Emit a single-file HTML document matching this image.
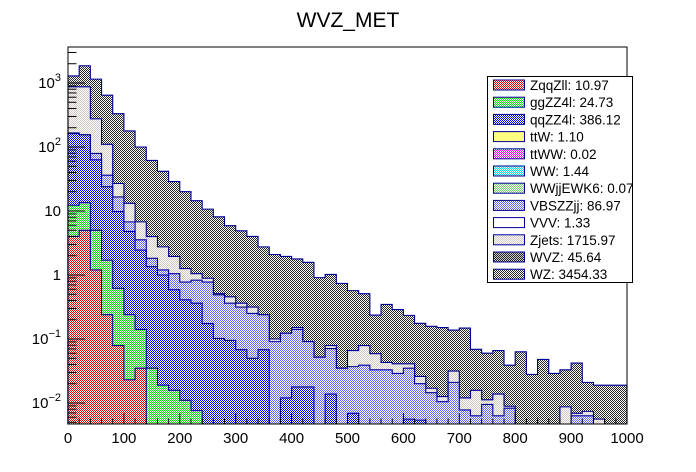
<!DOCTYPE html>
<html><head><meta charset="utf-8"><style>
body{margin:0;background:#fff}
svg{display:block;font-family:"Liberation Sans",sans-serif}
</style></head><body>
<svg id="chart" width="696" height="472" viewBox="0 0 696 472" xmlns="http://www.w3.org/2000/svg">
<defs>
<pattern id="pWZ" width="2" height="2" patternUnits="userSpaceOnUse"><rect width="2" height="2" fill="#fff"/><rect width="1" height="1" fill="#262626"/><rect x="1" y="1" width="1" height="1" fill="#262626"/></pattern>
<pattern id="pWVZ" width="2" height="2" patternUnits="userSpaceOnUse"><rect width="2" height="2" fill="#ccc"/><rect width="1" height="1" fill="#222"/><rect x="1" y="1" width="1" height="1" fill="#222"/></pattern>
<pattern id="pZj" width="2" height="2" patternUnits="userSpaceOnUse"><rect width="2" height="2" fill="#fff"/><rect width="1" height="1" fill="#d0c8c0"/><rect x="1" y="1" width="1" height="1" fill="#d0c8c0"/></pattern>
<pattern id="pVBS" width="2" height="2" patternUnits="userSpaceOnUse"><rect width="2" height="2" fill="#fff"/><rect width="1" height="1" fill="#6666ff"/><rect x="1" y="1" width="1" height="1" fill="#6666ff"/></pattern>
<pattern id="pQQ" width="2" height="2" patternUnits="userSpaceOnUse"><rect width="2" height="2" fill="#fff"/><rect width="1" height="1" fill="#0000ee"/><rect x="1" y="1" width="1" height="1" fill="#0000ee"/></pattern>
<pattern id="pGG" width="2" height="2" patternUnits="userSpaceOnUse"><rect width="2" height="2" fill="#fff"/><rect width="1" height="1" fill="#00e000"/><rect x="1" y="1" width="1" height="1" fill="#00e000"/></pattern>
<pattern id="pZqq" width="2" height="2" patternUnits="userSpaceOnUse"><rect width="2" height="2" fill="#fff"/><rect width="1" height="1" fill="#e00000"/><rect x="1" y="1" width="1" height="1" fill="#e00000"/></pattern>
<pattern id="pYel" width="2" height="2" patternUnits="userSpaceOnUse"><rect width="2" height="2" fill="#ffff80"/></pattern>
<pattern id="pMag" width="2" height="2" patternUnits="userSpaceOnUse"><rect width="2" height="2" fill="#fff"/><rect width="1" height="1" fill="#ff00ff"/><rect x="1" y="1" width="1" height="1" fill="#ff00ff"/></pattern>
<pattern id="pCy" width="2" height="2" patternUnits="userSpaceOnUse"><rect width="2" height="2" fill="#fff"/><rect width="1" height="1" fill="#00e0e0"/><rect x="1" y="1" width="1" height="1" fill="#00e0e0"/></pattern>
<pattern id="pWWjj" width="2" height="2" patternUnits="userSpaceOnUse"><rect width="2" height="2" fill="#fff"/><rect width="1" height="1" fill="#70d070"/><rect x="1" y="1" width="1" height="1" fill="#70d070"/></pattern>
</defs>
<text x="348" y="27" font-size="21" text-anchor="middle">WVZ_MET</text>
<g id="layers"></g>
<rect x="68" y="47" width="559" height="377" fill="none" stroke="#000" stroke-width="1"/>
<g id="axes"></g>
<g id="legend"></g>
</svg>
<script>
// stacked cumulative bin contents (20 GeV bins, 0-1000)
const binEdges0 = 0, binWidth = 20;
const stackTotal = [1290,1860,1150,646,331,178,100,61.7,41.7,28.8,20,14.5,10.7,8.1,5.9,4.9,4.0,2.75,2.09,1.95,1.78,1.58,0.91,1.02,0.74,0.57,0.51,0.237,0.347,0.288,0.234,0.176,0.158,0.151,0.138,0.148,0.069,0.060,0.066,0.039,0.063,0.028,0.048,0.029,0.033,0.042,0.021,0.019,0.019,0.019];
const stackZjets = [871,871,275,110,26.9,13.2,6.76,3.98,2.75,1.95,1.26,1.05,0.89,0.51,0.457,0.363,0.316,0.24,0.10,0.123,0.151,0.091,0.052,0.079,0.035,0.066,0.079,0.059,0.043,0.041,0.041,0.026,0.017,0.0126,0.0316,0.012,0.0158,0.0112,0.0138,0.0089,0,0,0,0,0.0087,0.0069,0.0074,0.0056,0,0];
const stackVBS = [166,155,79.4,36.3,16.6,6.76,3.55,1.82,1.20,1.05,0.776,0.83,0.776,0.49,0.363,0.316,0.251,0.24,0.091,0.123,0.141,0.091,0.052,0.071,0.035,0.037,0.039,0.033,0.033,0.029,0.035,0.020,0.0145,0.0105,0.021,0.0078,0.0063,0.0095,0.0063,0.0083,0,0,0,0,0,0.0063,0.0063,0,0,0];
const stackQQ = [162,155,63,24,9.8,4.8,2.45,1.35,1.0,0.59,0.41,0.363,0.174,0.102,0.095,0.068,0.050,0.068,0,0.012,0.0178,0.0178,0,0.0138,0,0.0069,0,0,0,0,0.0056,0.0054,0,0,0,0,0,0,0,0,0,0,0,0,0,0,0,0,0,0];
const stackGG = [12.3,13.5,5.0,1.7,0.62,0.24,0.141,0.035,0.019,0.0158,0.011,0.0076];
const stackZqq = [4.0,5.0,1.2,0.24,0.079,0.023,0.035];
const xTicks = [0,100,200,300,400,500,600,700,800,900,1000];
const yTickExp = [-2,-1,0,1,2,3];
const legendLabels = ["ZqqZll: 10.97","ggZZ4l: 24.73","qqZZ4l: 386.12","ttW: 1.10","ttWW: 0.02","WW: 1.44","WWjjEWK6: 0.07","VBSZZjj: 86.97","VVV: 1.33","Zjets: 1715.97","WVZ: 45.64","WZ: 3454.33"];
const legendFills = ["pZqq","pGG","pQQ","pYel","pMag","pCy","pWWjj","pVBS","#fff","pZj","pWVZ","pWZ"];

const NS="http://www.w3.org/2000/svg";
const X0=68,X1=627,YT=47,YB=424;
const LMIN=-2.33,LMAX=3.56;
function xs(v){return X0+(v-0)/1000*(X1-X0);}
function ys(v){ if(!(v>0)) return YB; let l=Math.log10(v); l=Math.max(LMIN,Math.min(LMAX,l)); return 275-64*l;}
function mk(tag,attrs,parent){const e=document.createElementNS(NS,tag);for(const k in attrs)e.setAttribute(k,attrs[k]);parent.appendChild(e);return e;}

const layers=document.getElementById('layers');
const stacks=[[stackTotal,'pWZ','wz'],[stackZjets,'pZj','zjets'],[stackVBS,'pVBS','vbszzjj'],[stackQQ,'pQQ','qqzz4l'],[stackGG,'pGG','ggzz4l'],[stackZqq,'pZqq','zqqzll']];
stacks.forEach(([arr,pat,nm])=>{
  let d='M'+xs(0)+','+YB;
  arr.forEach((v,i)=>{const y=ys(v);d+=' L'+xs(i*binWidth)+','+y+' L'+xs((i+1)*binWidth)+','+y;});
  d+=' L'+xs(arr.length*binWidth)+','+YB+' Z';
  const p=mk('path',{d:d,fill:'url(#'+pat+')',stroke:'#000099','stroke-width':'1.1'},layers);
  
  
});

const axes=document.getElementById('axes');
for(let v=0;v<=1000;v+=20){
  const major=v%100===0;
  mk('line',{x1:xs(v),x2:xs(v),y1:YB,y2:YB-(major?11:5.5),stroke:'#000','stroke-width':1},axes);
}
xTicks.forEach(v=>{
  const t=mk('text',{x:xs(v),y:443,'font-size':15,'text-anchor':'middle'},axes);
  t.textContent=String(v);
  
  
});
for(let e=-3;e<=3;e++){
  for(let m=1;m<10;m++){
    const v=m*Math.pow(10,e);const l=Math.log10(v);
    if(l<LMIN||l>LMAX+0.02)continue;
    const y=275-64*l;
    mk('line',{x1:X0,x2:X0+(m===1?17:8.5),y1:y,y2:y,stroke:'#000','stroke-width':1},axes);
  }
}
yTickExp.forEach(e=>{
  const y=275-64*e+5;
  const t=mk('text',{x:61,y:y,'font-size':15,'text-anchor':'end'},axes);
  
  
  if(e===0){t.textContent='1';}
  else if(e===1){t.textContent='10';}
  else{
    const a=document.createElementNS(NS,'tspan');a.textContent='10';t.appendChild(a);
    const b=document.createElementNS(NS,'tspan');b.setAttribute('dy','-7');b.setAttribute('font-size','11');
    b.textContent=(e<0?'\u2212':'')+Math.abs(e);t.appendChild(b);
  }
});

const lg=document.getElementById('legend');
mk('rect',{x:487.5,y:76.5,width:145,height:206,fill:'#fff',stroke:'#000','stroke-width':1},lg);
legendLabels.forEach((lab,i)=>{
  const cy=85+i*17.2;
  const f=legendFills[i].startsWith('#')?legendFills[i]:'url(#'+legendFills[i]+')';
  const s=mk('rect',{x:493.5,y:cy-5,width:31,height:10,fill:f,stroke:'#000099','stroke-width':1},lg);
  
  
  const t=mk('text',{x:530,y:cy+5,'font-size':13.5},lg);
  t.textContent=lab;
  
  
});
</script>
</body></html>
